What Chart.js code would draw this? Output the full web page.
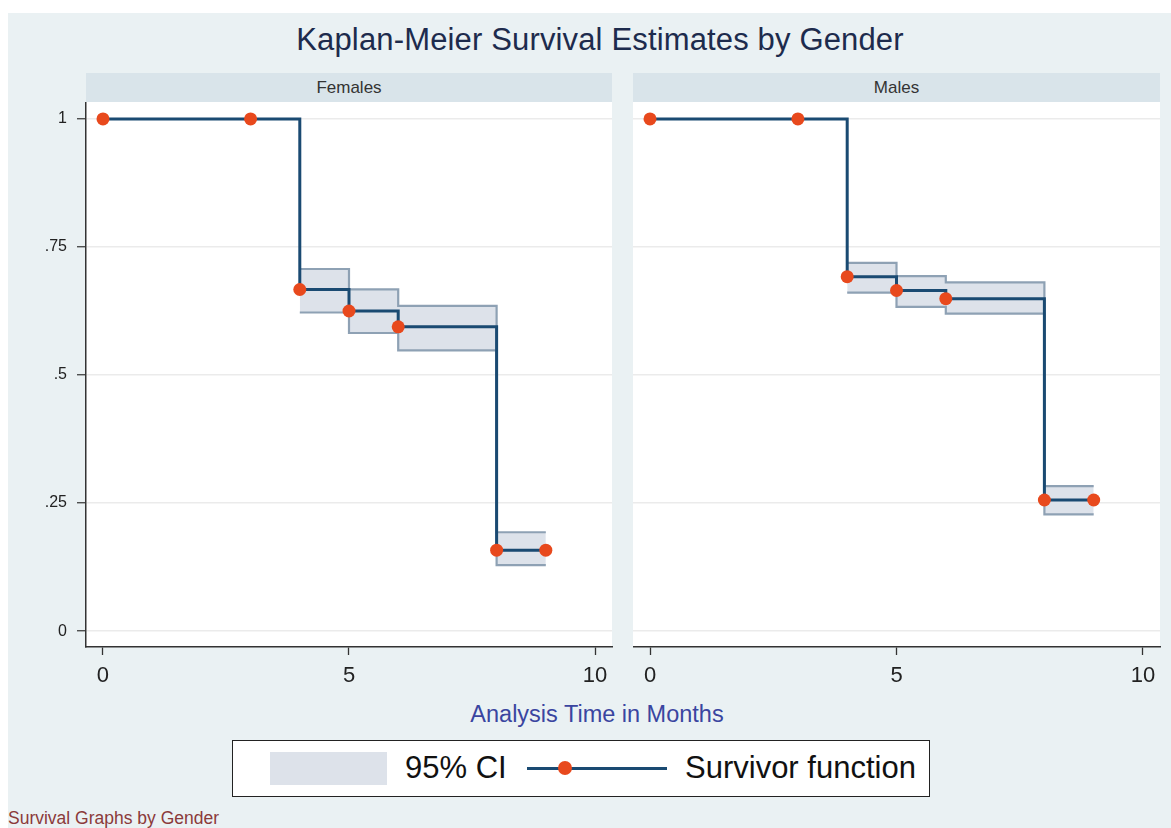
<!DOCTYPE html>
<html><head><meta charset="utf-8">
<script src="https://cdn.jsdelivr.net/npm/chart.js@4.4.1/dist/chart.umd.min.js"></script>
<style>
body{margin:0;width:1171px;height:828px;background:#fff;position:relative;overflow:hidden;font-family:"Liberation Sans",Arial,sans-serif;}
.abs{position:absolute;}
#bg{left:8px;top:13px;width:1163px;height:815px;background:#eaf1f3;}
#title{left:600px;top:24px;transform:translateX(-50%);font-size:31px;line-height:31px;color:#1d2b4d;white-space:nowrap;letter-spacing:0.15px;}
.hdr{top:73px;height:29px;background:#d9e4ea;color:#333;font-size:17px;line-height:29px;text-align:center;}
#xtitle{left:597px;top:702px;transform:translateX(-50%);font-size:23.5px;line-height:24px;color:#3a45a0;white-space:nowrap;}
#legend{left:232px;top:740px;width:696px;height:55px;border:1.5px solid #222;background:#fff;}
#sw{left:270px;top:752px;width:117px;height:33px;background:#dde2ea;}
.ltxt{top:751px;font-size:31px;line-height:34px;color:#111;white-space:nowrap;}
#lline{left:527px;top:767px;width:140px;height:2.5px;background:#1a4a72;}
#ldot{left:558px;top:761px;width:14px;height:14px;border-radius:50%;background:#e8491d;}
#foot{left:8px;top:809px;font-size:17.5px;line-height:18px;color:#8b3a3a;white-space:nowrap;}
</style></head><body>
<div id="bg" class="abs"></div>
<div id="title" class="abs">Kaplan-Meier Survival Estimates by Gender</div>
<div class="abs hdr" style="left:86px;width:526px;">Females</div>
<div class="abs hdr" style="left:633px;width:527px;">Males</div>
<div class="abs" style="left:0;top:102px;width:620px;height:590px;"><canvas id="cF" width="620" height="590"></canvas></div>
<div class="abs" style="left:633px;top:102px;width:535px;height:590px;"><canvas id="cM" width="535" height="590"></canvas></div>
<div id="xtitle" class="abs">Analysis Time in Months</div>
<div id="legend" class="abs"></div>
<div id="sw" class="abs"></div>
<div class="abs ltxt" style="left:405px;">95% CI</div>
<div id="lline" class="abs"></div>
<div id="ldot" class="abs"></div>
<div class="abs ltxt" style="left:685px;">Survivor function</div>
<div id="foot" class="abs">Survival Graphs by Gender</div>
<script>
// ---- data ----
const timeF = [0, 3, 4, 5, 6, 8, 9];
const survF = [1, 1, 0.667, 0.625, 0.594, 0.158, 0.158];
const ciTimeF = [4, 5, 6, 8, 9];
const ciUpF = [0.707, 0.667, 0.635, 0.193, 0.193];
const ciLoF = [0.622, 0.582, 0.548, 0.129, 0.129];

const timeM = [0, 3, 4, 5, 6, 8, 9];
const survM = [1, 1, 0.692, 0.665, 0.649, 0.256, 0.256];
const ciTimeM = [4, 5, 6, 8, 9];
const ciUpM = [0.719, 0.693, 0.681, 0.283, 0.283];
const ciLoM = [0.661, 0.633, 0.620, 0.228, 0.228];

const xTicks = [0, 5, 10];
const yTicks = [0, 0.25, 0.5, 0.75, 1];
const yTickLabels = ['0', '.25', '.5', '.75', '1'];

// ---- styles ----
const FAM = '"Liberation Sans", Arial, sans-serif';
const NAVY = '#1a4a72', ORANGE = '#e8491d', CIFILL = '#dde2ea', CILINE = '#8ea1b4';

const whiteArea = {
  id: 'whiteArea',
  beforeDraw(chart) {
    const a = chart.chartArea, c = chart.ctx;
    c.save(); c.fillStyle = '#fff';
    c.fillRect(a.left, a.top, a.right - a.left, a.bottom - a.top);
    c.restore();
  }
};

function pts(xs, ys) { return xs.map((x, i) => ({ x: x, y: ys[i] })); }

function makeChart(id, t, s, ct, cu, cl, showY) {
  return new Chart(document.getElementById(id), {
    type: 'line',
    data: {
      datasets: [
        { data: pts(t, s), stepped: true, borderColor: NAVY, borderWidth: 3,
          pointRadius: 6.5, pointHoverRadius: 6.5, pointBackgroundColor: ORANGE,
          pointBorderWidth: 0, fill: false, order: 0, clip: false },
        { data: pts(ct, cu), stepped: true, borderColor: CILINE, borderWidth: 2.2,
          pointRadius: 0, fill: '+1', backgroundColor: CIFILL, order: 1 },
        { data: pts(ct, cl), stepped: true, borderColor: CILINE, borderWidth: 2.2,
          pointRadius: 0, fill: false, order: 2 }
      ]
    },
    options: {
      responsive: false, animation: false,
      layout: { autoPadding: false, padding: { left: 0, right: 8, top: 0, bottom: 0 } },
      plugins: { legend: { display: false }, tooltip: { enabled: false },
                 filler: { drawTime: 'beforeDatasetsDraw' } },
      scales: {
        x: {
          type: 'linear', min: -0.345, max: 10.345,
          afterBuildTicks: sc => { sc.ticks = xTicks.map(v => ({ value: v })); },
          afterFit: sc => { sc.height = 45; sc.paddingLeft = 0; sc.paddingRight = 0; sc.paddingTop = 0; sc.paddingBottom = 0; },
          ticks: { font: { size: 22, family: FAM }, color: '#222', padding: 8, maxRotation: 0 },
          grid: { drawOnChartArea: false, tickLength: 8, tickColor: '#333', tickWidth: 1.3 },
          border: { display: true, color: '#333', width: 1.5 }
        },
        y: {
          type: 'linear', min: -0.031, max: 1.033,
          afterBuildTicks: sc => { sc.ticks = yTicks.map(v => ({ value: v })); },
          afterFit: sc => { sc.width = showY ? 86 : 0; sc.paddingTop = 0; sc.paddingBottom = 0; sc.paddingLeft = 0; sc.paddingRight = 0; },
          ticks: { display: showY, font: { size: 16, family: FAM }, color: '#222', padding: 10,
                   callback: (v, i) => yTickLabels[i] },
          grid: { color: '#ebebeb', lineWidth: 1.5, drawTicks: showY, tickLength: 9,
                  tickColor: '#333', tickWidth: 1.2 },
          border: { display: showY, color: '#333', width: 1.5 }
        }
      }
    },
    plugins: [whiteArea]
  });
}

makeChart('cF', timeF, survF, ciTimeF, ciUpF, ciLoF, true);
makeChart('cM', timeM, survM, ciTimeM, ciUpM, ciLoM, false);
</script>
</body></html>
